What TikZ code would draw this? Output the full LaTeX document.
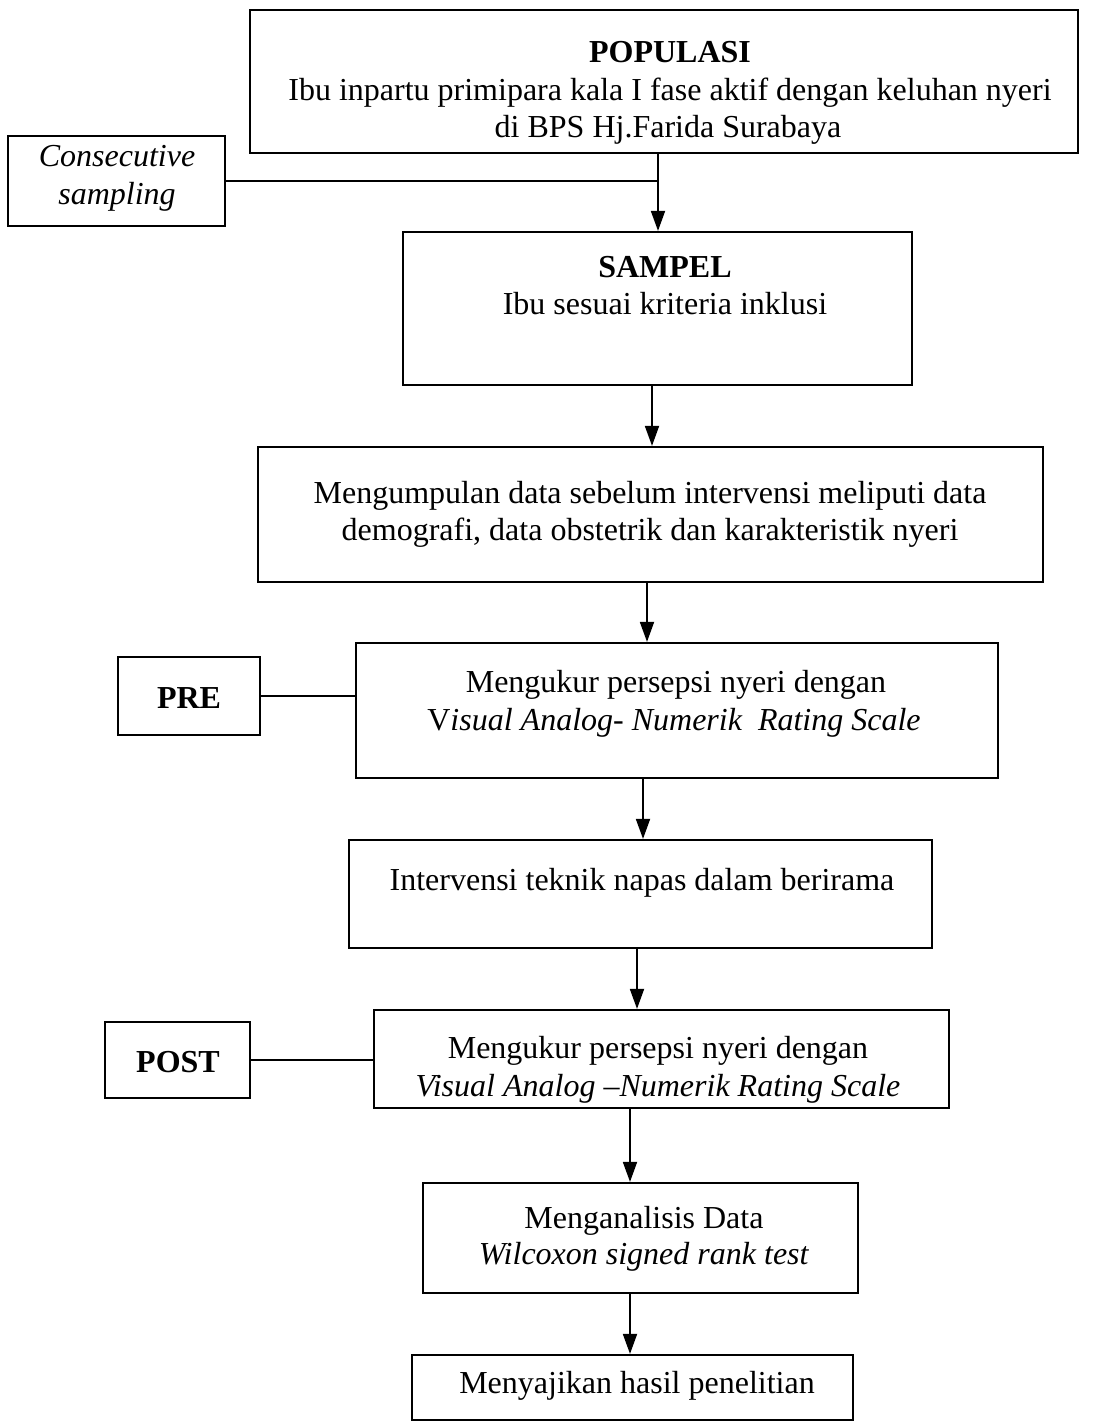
\documentclass[tikz,border=0pt]{standalone}
\usepackage{fontspec}
\setmainfont{Liberation Serif}
\usetikzlibrary{arrows.meta}
\begin{document}
\begin{tikzpicture}[x=1pt,y=-1pt,
  box/.style={draw, line width=2.2pt, inner sep=0pt},
  txt/.style={font=\fontsize{32}{37.5}\selectfont, inner sep=0pt, anchor=base},
  arr/.style={line width=1.8pt, -{Triangle[length=20pt,width=14pt]}},
  lnk/.style={line width=1.8pt}]
\useasboundingbox (0,0) rectangle (1098,1424);

% boxes
\node[box, minimum width=828pt, minimum height=143pt] (pop)   at (664,81.5) {};
\node[box, minimum width=217pt, minimum height=90pt]  (cons)  at (116.5,181) {};
\node[box, minimum width=509pt, minimum height=153pt] (sam)   at (657.5,308.5) {};
\node[box, minimum width=785pt, minimum height=135pt] (data)  at (650.5,514.5) {};
\node[box, minimum width=142pt, minimum height=78pt]  (pre)   at (189,696) {};
\node[box, minimum width=642pt, minimum height=135pt] (mpre)  at (677,710.5) {};
\node[box, minimum width=583pt, minimum height=108pt] (int)   at (640.5,894) {};
\node[box, minimum width=145pt, minimum height=76pt]  (post)  at (177.5,1060) {};
\node[box, minimum width=575pt, minimum height=98pt]  (mpost) at (661.5,1059) {};
\node[box, minimum width=435pt, minimum height=110pt] (anal)  at (640.5,1238) {};
\node[box, minimum width=441pt, minimum height=65pt]  (saji)  at (632.5,1387.5) {};

% texts
\node[txt] (t1a) at (670,62)  {\textbf{POPULASI}};
\node[txt] (t1b) at (670,100) {Ibu inpartu primipara kala I fase aktif dengan keluhan nyeri};
\node[txt] (t1c) at (668,137) {di BPS Hj.Farida Surabaya};

\node[txt] (t2a) at (117,166) {\textit{Consecutive}};
\node[txt] (t2b) at (117,204) {\textit{sampling}};

\node[txt] (t3a) at (665,277) {\textbf{SAMPEL}};
\node[txt] (t3b) at (665,314) {Ibu sesuai kriteria inklusi};

\node[txt] (t4a) at (650,503) {Mengumpulan data sebelum intervensi meliputi data};
\node[txt] (t4b) at (650,540) {demografi, data obstetrik dan karakteristik nyeri};

\node[txt] (t5)  at (189,708) {\textbf{PRE}};
\node[txt] (t6a) at (676,692) {Mengukur persepsi nyeri dengan};
\node[txt] (t6b) at (674,730) {V\textit{isual Analog- Numerik\ \ Rating Scale}};

\node[txt] (t7)  at (642,890) {Intervensi teknik napas dalam berirama};

\node[txt] (t8)  at (178,1072) {\textbf{POST}};
\node[txt] (t9a) at (658,1058) {Mengukur persepsi nyeri dengan};
\node[txt] (t9b) at (658,1096) {\textit{Visual Analog --Numerik Rating Scale}};

\node[txt] (t10a) at (644,1228) {Menganalisis Data};
\node[txt] (t10b) at (644,1264) {\textit{Wilcoxon signed rank test}};

\node[txt] (t11) at (637,1393) {Menyajikan hasil penelitian};

% connectors
\draw[arr] (pop.south -| 658,0) -- (sam.north -| 658,0);
\draw[lnk] (cons.east) -- (cons.east -| 658,0);
\draw[arr] (sam.south -| 652,0) -- (data.north -| 652,0);
\draw[arr] (data.south -| 647,0) -- (mpre.north -| 647,0);
\draw[arr] (mpre.south -| 643,0) -- (int.north -| 643,0);
\draw[arr] (int.south -| 637,0) -- (mpost.north -| 637,0);
\draw[arr] (mpost.south -| 630,0) -- (anal.north -| 630,0);
\draw[arr] (anal.south -| 630,0) -- (saji.north -| 630,0);
\draw[lnk] (pre.east) -- (pre.east -| mpre.west);
\draw[lnk] (post.east) -- (post.east -| mpost.west);
\end{tikzpicture}
\end{document}
